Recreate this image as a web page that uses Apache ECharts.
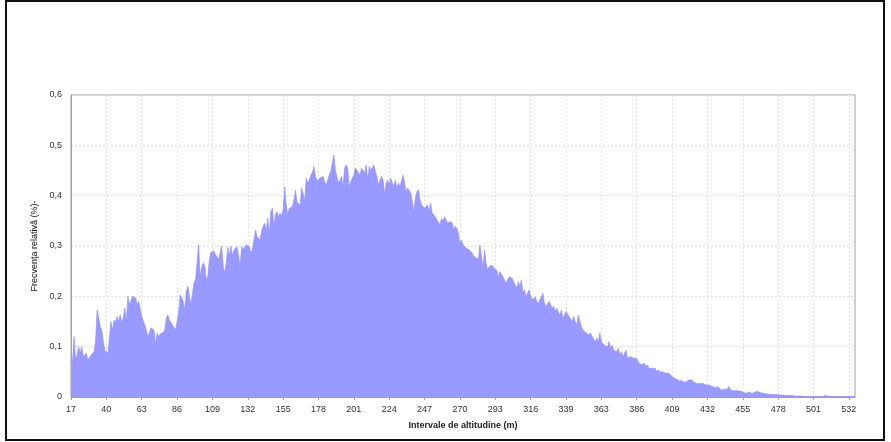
<!DOCTYPE html>
<html>
<head>
<meta charset="utf-8">
<script src="https://cdn.jsdelivr.net/npm/echarts@6/dist/echarts.min.js"></script>
<style>
  html, body { margin: 0; padding: 0; background: #fff; }
  #chart { width: 891px; height: 442px; }
</style>
</head>
<body>
<div id="chart"></div>
<script>
// Altitude classes (m): consecutive metres from 17 to 536, minus the empty classes
const firstAltitude = 17;
const lastAltitude = 536;
const skippedAltitudes = [350, 505, 508, 512, 515, 519, 522, 526, 529];

// Relative frequency (%) per altitude class, in five bands
const freqLowlands = [
  0.067, 0.072, 0.12, 0.074, 0.085, 0.1, 0.087, 0.1, 0.08, 0.077, 0.087, 0.073, 0.078, 0.083, 0.086, 0.09, 0.113, 0.173, 0.158, 0.14,
  0.133, 0.11, 0.093, 0.09, 0.087, 0.085, 0.15, 0.133, 0.153, 0.148, 0.16, 0.15, 0.163, 0.147, 0.158, 0.177, 0.15, 0.2, 0.183, 0.183,
  0.2, 0.203, 0.197, 0.183, 0.19, 0.175, 0.16, 0.157, 0.143, 0.133, 0.12, 0.127, 0.137, 0.14, 0.133, 0.103, 0.127, 0.12, 0.125, 0.123,
  0.128, 0.133, 0.157, 0.163, 0.153, 0.15, 0.143, 0.14, 0.133, 0.15, 0.167, 0.203, 0.197, 0.19, 0.173, 0.21, 0.22, 0.223, 0.183, 0.18,
  0.227, 0.233, 0.233, 0.303, 0.24, 0.257, 0.267, 0.26, 0.233, 0.24, 0.273, 0.287, 0.288, 0.29, 0.283, 0.28, 0.273, 0.273, 0.3, 0.26,
  0.247, 0.267, 0.297, 0.28, 0.3
];
const freqHills = [
  0.28, 0.292, 0.295, 0.299, 0.28, 0.259, 0.299, 0.292, 0.298, 0.302, 0.3, 0.299, 0.286, 0.292, 0.312, 0.332, 0.319, 0.322, 0.312, 0.33,
  0.339, 0.345, 0.332, 0.355, 0.325, 0.368, 0.375, 0.339, 0.362, 0.368, 0.358, 0.365, 0.36, 0.372, 0.418, 0.382, 0.362, 0.375, 0.378, 0.378,
  0.392, 0.411, 0.388, 0.385, 0.38, 0.415, 0.405, 0.388, 0.435, 0.425, 0.431, 0.441, 0.445, 0.458, 0.438, 0.43, 0.428, 0.435, 0.435, 0.438,
  0.428, 0.421, 0.431, 0.441, 0.448, 0.451, 0.481, 0.45, 0.448, 0.425, 0.431, 0.438, 0.418, 0.455, 0.461, 0.455, 0.415, 0.428, 0.43, 0.441,
  0.455, 0.451, 0.445, 0.441, 0.455, 0.458, 0.445, 0.461, 0.428, 0.458, 0.451, 0.45, 0.461, 0.448, 0.438, 0.421, 0.418, 0.438, 0.431, 0.402,
  0.425, 0.431, 0.421, 0.435, 0.425, 0.42
];
const freqSlopes = [
  0.431, 0.415, 0.425, 0.418, 0.415, 0.441, 0.425, 0.408, 0.415, 0.412, 0.405, 0.39, 0.365, 0.395, 0.408, 0.412, 0.392, 0.382, 0.382, 0.375,
  0.378, 0.382, 0.368, 0.385, 0.365, 0.368, 0.358, 0.352, 0.349, 0.342, 0.355, 0.349, 0.358, 0.352, 0.345, 0.342, 0.349, 0.345, 0.332, 0.339,
  0.335, 0.325, 0.305, 0.312, 0.302, 0.302, 0.296, 0.299, 0.292, 0.29, 0.286, 0.279, 0.282, 0.276, 0.272, 0.302, 0.279, 0.259, 0.292, 0.266,
  0.252, 0.259, 0.262, 0.262, 0.256, 0.259, 0.252, 0.239, 0.249, 0.252, 0.239, 0.236, 0.226, 0.229, 0.239, 0.236, 0.236, 0.229, 0.226, 0.216,
  0.229, 0.219, 0.233, 0.206, 0.213, 0.199, 0.206, 0.213, 0.2, 0.193, 0.196, 0.199, 0.19, 0.186, 0.193, 0.19, 0.206, 0.186, 0.18, 0.183,
  0.19, 0.193, 0.176, 0.18
];
const freqUplands = [
  0.17, 0.176, 0.173, 0.163, 0.173, 0.156, 0.163, 0.17, 0.165, 0.16, 0.163, 0.15, 0.16, 0.15, 0.143, 0.163, 0.16, 0.14, 0.133, 0.13,
  0.127, 0.125, 0.123, 0.127, 0.12, 0.117, 0.11, 0.117, 0.11, 0.127, 0.11, 0.107, 0.103, 0.102, 0.1, 0.11, 0.097, 0.103, 0.093, 0.093,
  0.09, 0.097, 0.083, 0.09, 0.08, 0.087, 0.093, 0.077, 0.077, 0.08, 0.077, 0.077, 0.074, 0.077, 0.07, 0.07, 0.064, 0.064, 0.067, 0.06,
  0.064, 0.057, 0.057, 0.057, 0.054, 0.057, 0.05, 0.054, 0.05, 0.047, 0.05, 0.047, 0.047, 0.044, 0.047, 0.044, 0.04, 0.04, 0.037, 0.04,
  0.034, 0.03, 0.034, 0.03, 0.03, 0.03, 0.03, 0.034, 0.037, 0.034, 0.03, 0.03, 0.027, 0.03, 0.027, 0.024, 0.027, 0.027, 0.024, 0.021,
  0.024, 0.027, 0.021, 0.024
];
const freqSummits = [
  0.019, 0.017, 0.02, 0.018, 0.014, 0.016, 0.015, 0.017, 0.016, 0.021, 0.015, 0.014, 0.012, 0.011, 0.013, 0.014, 0.012, 0.011, 0.01, 0.009,
  0.007, 0.009, 0.01, 0.008, 0.007, 0.009, 0.01, 0.008, 0.011, 0.009, 0.008, 0.007, 0.007, 0.006, 0.006, 0.005, 0.005, 0.006, 0.005, 0.004,
  0.005, 0.005, 0.004, 0.004, 0.004, 0.003, 0.003, 0.003, 0.003, 0.002, 0.003, 0.002, 0.002, 0.002, 0.002, 0.002, 0.002, 0.002, 0.001, 0.002,
  0.001, 0.001, 0.001, 0.001, 0.001, 0.001, 0.001, 0.002, 0.001, 0.001, 0.001, 0.002, 0.003, 0.002, 0.001, 0.001, 0.001, 0.001, 0.001, 0.001,
  0.001, 0.001, 0.001, 0.001, 0.001, 0.001, 0.001, 0.001, 0.001, 0.001, 0.001, 0.001
];

// Value axis ticks
const yTicks = [0, 0.1, 0.2, 0.3, 0.4, 0.5, 0.6];

const altitudes = [];
for (let a = firstAltitude; a <= lastAltitude; a++) {
  if (!skippedAltitudes.includes(a)) altitudes.push(String(a));
}
const frequencies = [].concat(freqLowlands, freqHills, freqSlopes, freqUplands, freqSummits);

const FONT = '"Liberation Sans", Arial, sans-serif';
const chart = echarts.init(document.getElementById('chart'), null, { renderer: 'canvas' });

chart.setOption({
  animation: false,
  backgroundColor: '#ffffff',
  graphic: [{
    type: 'rect',
    shape: { x: 6, y: 1, width: 878, height: 439 },
    style: { fill: 'none', stroke: '#111', lineWidth: 2 },
    silent: true,
    z: 100
  }],
  grid: {
    left: 71, right: 36, top: 95, bottom: 45,
    show: true, borderColor: '#a0a0a0', borderWidth: 1, backgroundColor: 'transparent'
  },
  xAxis: {
    type: 'category',
    data: altitudes,
    boundaryGap: false,
    name: 'Intervale de altitudine (m)',
    nameLocation: 'middle',
    nameGap: 24,
    nameTextStyle: { fontFamily: FONT, fontSize: 9, fontWeight: 'bold', color: '#222' },
    axisLine: { lineStyle: { color: '#a0a0a0' } },
    axisTick: { show: true, interval: 22, length: 3, lineStyle: { color: '#a0a0a0' } },
    axisLabel: { interval: 22, fontFamily: FONT, fontSize: 9, color: '#333', margin: 8 },
    splitLine: { show: true, interval: 22, lineStyle: { color: '#e2e2e2', type: [2, 2] } }
  },
  yAxis: {
    type: 'value',
    min: yTicks[0],
    max: yTicks[yTicks.length - 1],
    interval: 0.1,
    name: 'Frecvenţa relativă (%)-',
    nameLocation: 'middle',
    nameGap: 30,
    nameRotate: 90,
    nameTextStyle: { fontFamily: FONT, fontSize: 9, color: '#111' },
    axisLine: { show: true, lineStyle: { color: '#a0a0a0' } },
    axisTick: { show: false },
    axisLabel: {
      fontFamily: FONT, fontSize: 9, color: '#333', margin: 9,
      formatter: v => (v === 0 ? '0' : v.toFixed(1).replace('.', ','))
    },
    splitLine: { show: true, lineStyle: { color: '#e2e2e2', type: [2, 2] } }
  },
  series: [{
    type: 'line',
    data: frequencies,
    showSymbol: false,
    symbol: 'none',
    lineStyle: { width: 0.6, color: '#8f8ff5' },
    areaStyle: { color: '#9999ff', opacity: 1 },
    z: 2
  }]
});
</script>
</body>
</html>
